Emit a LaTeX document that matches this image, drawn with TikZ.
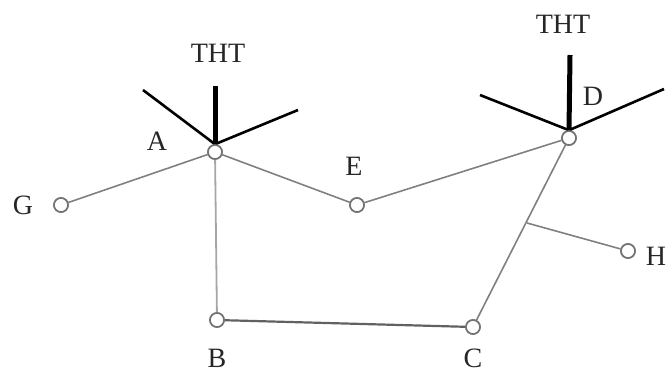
\documentclass[tikz,border=0pt]{standalone}
\usepackage{fontspec}
\setmainfont{Liberation Serif}
\begin{document}
\begin{tikzpicture}[x=1pt,y=-1pt,
  pt/.style={circle,draw=black!55,line width=1.6pt,fill=white,minimum size=14pt,inner sep=0pt},
  lbl/.style={font=\fontsize{28}{30}\selectfont,text=black!85,inner sep=0pt},
  edge/.style={draw=black!50,line width=1.6pt},
  light/.style={draw=black!35,line width=1.8pt},
  dark/.style={draw=black!62,line width=2.2pt},
  leg/.style={draw=black,line width=2.6pt},
  stem/.style={draw=black,line width=5pt}]
\useasboundingbox (0,0) rectangle (668,373);
% nodes
\node[pt] (A) at (215,152) {};
\node[pt] (B) at (217,320) {};
\node[pt] (C) at (473,327) {};
\node[pt] (D) at (569,138) {};
\node[pt] (E) at (357,205) {};
\node[pt] (G) at (61,205) {};
\node[pt] (H) at (628,251) {};
\coordinate (J) at (527,223);
% free ends of the black legs
\coordinate (At) at (215,86);
\coordinate (Al) at (143,90);
\coordinate (Ar) at (298,110);
\coordinate (Dt) at (570,55);
\coordinate (Dl) at (480,95);
\coordinate (Dr) at (664,89);
% connectors
\draw[edge] (A) -- (G);
\draw[edge] (A) -- (E);
\draw[edge] (E) -- (D);
\draw[light] (A) -- (B);
\draw[dark] (B) -- (C);
\draw[edge] (C) -- (D);
\draw[edge] (J) -- (H);
% black legs
\draw[stem] (A.north) -- (At);
\draw[leg] (A.north) -- (Al);
\draw[leg] (A.north) -- (Ar);
\draw[stem] (D.north) -- (Dt);
\draw[leg] (D.north) -- (Dl);
\draw[leg] (D.north) -- (Dr);
% redraw circles on top
\foreach \n in {A,B,C,D,E,G,H} \node[pt] at (\n) {};
% labels
\node[lbl] (tA) at (218,53) {THT};
\node[lbl] (tD) at (563,24) {THT};
\node[lbl] (lA) at (157,141) {A};
\node[lbl] (lB) at (217,358) {B};
\node[lbl] (lC) at (473,358) {C};
\node[lbl] (lD) at (593,96) {D};
\node[lbl] (lE) at (354,166) {E};
\node[lbl] (lG) at (23,205) {G};
\node[lbl] (lH) at (656,256) {H};
\end{tikzpicture}
\end{document}
